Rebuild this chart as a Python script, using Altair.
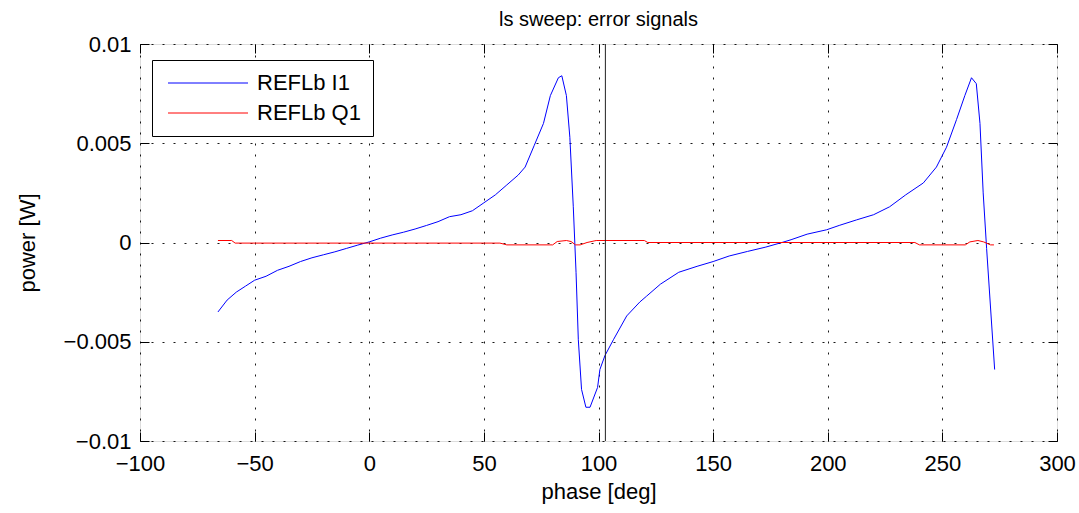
import altair as alt
import pandas as pd

# REFLb I1 (blue)
i1_phase = [-66, -62, -58, -54, -50, -45, -40, -35, -30, -25, -20, -15, -10, -5, 0,
            5, 10, 15, 20, 25, 30, 35, 40, 45, 50, 55, 60, 65, 68, 72, 76, 79, 82.5,
            84, 86, 87.5, 89, 90.2, 91.2, 92.6, 94.5, 96.3, 99.6, 100.6, 102.8, 106.5,
            112.3, 118, 121, 127, 135, 143, 150, 157, 165, 173, 180, 184, 191, 199.5,
            205, 212.6, 220, 227, 234, 241.7, 247.4, 251.8, 256.2, 259.8, 262.7, 264.8,
            266.4, 267.8, 269.3, 272.8]
i1_power = [-0.0035, -0.0029, -0.0025, -0.0022, -0.0019, -0.0017, -0.0014, -0.0012,
            -0.00096, -0.00077, -0.00062, -0.00047, -0.0003, -0.00013, 0.00003,
            0.00022, 0.00038, 0.00052, 0.00068, 0.00086, 0.00105, 0.0013, 0.0014,
            0.0016, 0.0020, 0.0024, 0.0029, 0.0034, 0.0038, 0.0049, 0.0060, 0.0074,
            0.0083, 0.0084, 0.0074, 0.0053, 0.0018, -0.0015, -0.0049, -0.0074,
            -0.0083, -0.0083, -0.0073, -0.0064, -0.0057, -0.0049, -0.0037, -0.0030,
            -0.0027, -0.0021, -0.0015, -0.0012, -0.00096, -0.00068, -0.00045,
            -0.00023, 0.0, 0.00014, 0.00042, 0.00064, 0.00086, 0.00114, 0.0014,
            0.0018, 0.0024, 0.0030, 0.0038, 0.0048, 0.0062, 0.0074, 0.0083, 0.0080,
            0.0060, 0.0025, -0.0003, -0.0064]

# REFLb Q1 (red)
q1_phase = [-66, -60, -58.5, 0, 57, 60, 80, 82, 86, 88, 90, 92, 95, 99, 120, 121.5,
            238, 240, 260, 262, 265.5, 268, 271, 272.5]
q1_power = [0.0001, 0.0001, -0.00003, -0.00003, -0.00003, -0.00012, -0.00012, 0.00005,
            0.0001, 0.00005, -0.00012, -0.00012, 0.0, 0.0001, 0.0001, 0.0, 0.0, -0.00012,
            -0.00012, 0.00003, 0.0001, 0.00003, -0.00012, -0.00012]

marker_phase = [103]

series_names = ["REFLb I1", "REFLb Q1"]
series_colors = ["#0000ff", "#ff0000"]
x_ticks = [-100, -50, 0, 50, 100, 150, 200, 250, 300]
y_ticks = [-0.01, -0.005, 0, 0.005, 0.01]

df = pd.concat([
    pd.DataFrame({"phase": i1_phase, "power": i1_power, "series": series_names[0]}),
    pd.DataFrame({"phase": q1_phase, "power": q1_power, "series": series_names[1]}),
])
mk = pd.DataFrame({"phase": marker_phase})

FONT = "Liberation Sans"
xscale = alt.Scale(domain=[-100, 300], nice=False, zero=False)
yscale = alt.Scale(domain=[-0.01, 0.01], nice=False, zero=False)

lines = alt.Chart(df).mark_line(strokeWidth=1, clip=True).encode(
    x=alt.X("phase:Q", scale=xscale,
            axis=alt.Axis(values=x_ticks, format="d", title="phase [deg]",
                          labelFontSize=22, titleFontSize=22, labelFont=FONT, titleFont=FONT,
                          labelColor="black", titleColor="black", titleFontWeight="normal",
                          tickSize=0, domain=False, grid=True, gridColor="black",
                          gridDash=[2, 9], gridOpacity=0.9, labelPadding=12, titlePadding=7,
                          labelFlush=False)),
    y=alt.Y("power:Q", scale=yscale,
            axis=alt.Axis(values=y_ticks, format="~g", title="power [W]",
                          labelFontSize=22, titleFontSize=22, labelFont=FONT, titleFont=FONT,
                          labelColor="black", titleColor="black", titleFontWeight="normal",
                          tickSize=0, domain=False, grid=True, gridColor="black",
                          gridDash=[2, 9], gridOpacity=0.9, labelPadding=9, titlePadding=24,
                          labelFlush=False)),
    color=alt.Color("series:N",
                    scale=alt.Scale(domain=series_names, range=series_colors),
                    legend=alt.Legend(title=None, orient="none", legendX=12, legendY=16,
                                      strokeColor="black", fillColor="white", padding=12,
                                      labelFontSize=22, labelFont=FONT, labelColor="black",
                                      symbolType="M-4,0H4", symbolSize=400,
                                      symbolStrokeWidth=1, symbolOffset=33,
                                      labelOffset=38, rowPadding=8)),
)

marker = alt.Chart(mk).mark_rule(color="#222", strokeWidth=1).encode(
    x=alt.X("phase:Q", scale=xscale,
            axis=alt.Axis(values=x_ticks, orient="bottom", offset=-9, tickSize=9,
                          labels=False, domain=False, grid=False, title=None,
                          tickColor="black")),
)

ticks_bl = alt.Chart(df).mark_line(strokeOpacity=0, clip=True).encode(
    x=alt.X("phase:Q", scale=xscale,
            axis=alt.Axis(values=x_ticks, orient="top", offset=-9, tickSize=9,
                          labels=False, domain=False, grid=False, title=None,
                          tickColor="black")),
    y=alt.Y("power:Q", scale=yscale,
            axis=alt.Axis(values=y_ticks, orient="left", offset=-9, tickSize=9,
                          labels=False, domain=False, grid=False, title=None,
                          tickColor="black")),
    detail="series:N",
)

ticks_tr = alt.Chart(df).mark_line(strokeOpacity=0, clip=True).encode(
    x=alt.X("phase:Q", scale=xscale, axis=None),
    y=alt.Y("power:Q", scale=yscale,
            axis=alt.Axis(values=y_ticks, orient="right", offset=-9, tickSize=9,
                          labels=False, domain=False, grid=False, title=None,
                          tickColor="black")),
    detail="series:N",
)

chart = alt.layer(lines, marker, ticks_bl, ticks_tr).resolve_axis(
    x="independent", y="independent"
).properties(
    width=917, height=397,
    title=alt.TitleParams("ls sweep: error signals", fontSize=20, font=FONT,
                          fontWeight="normal", color="black", offset=14, dy=11),
    autosize=alt.AutoSizeParams(type="none"),
    padding={"left": 140, "top": 44, "right": 22, "bottom": 72},
).configure_view(stroke="#333", strokeWidth=1.5).configure(background="white")

chart.save("out.html", embed_options={"renderer": "svg", "actions": False})
